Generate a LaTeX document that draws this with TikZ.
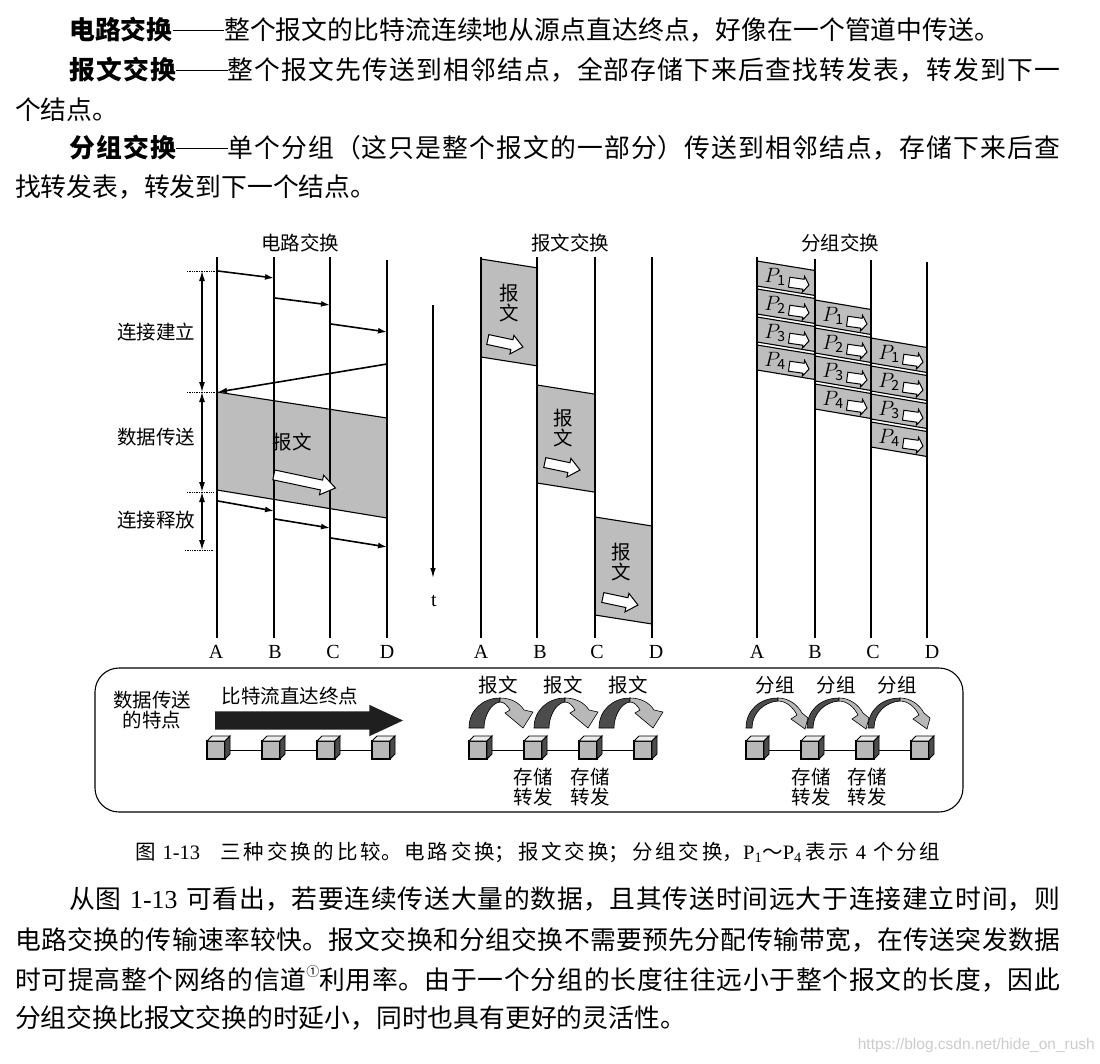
\documentclass[tikz,border=0pt]{standalone}
\usepackage{fontspec}
\setmainfont{Noto Sans CJK SC}
\newfontfamily\lat{Liberation Serif}
\newfontfamily\wmfont{Liberation Sans}
\usepackage{tikz}
\usetikzlibrary{arrows.meta,positioning,calc,shapes.arrows}
\XeTeXlinebreaklocale "zh"
\XeTeXlinebreakskip=0pt plus 3pt
\definecolor{band-gray}{gray}{0.74}
\definecolor{cube-gray}{gray}{0.72}
\definecolor{arc-dark}{gray}{0.3}
\definecolor{arc-light}{gray}{0.72}
\newcommand{\fitl}[1]{\parindent=0pt\parfillskip=0pt\leftskip=0pt\rightskip=0pt\tolerance=10000\hbadness=10000\relax #1\par}
\newcommand{\ldash}{\rule[0.33em]{2em}{0.06em}}
\tikzset{
  body/.style={anchor=west,inner sep=0pt,font=\fontsize{25.8}{30}\selectfont},
  fitline/.style={body,text width=#1},
  lbl/.style={inner sep=0pt,font=\fontsize{19.5}{20}\selectfont,align=center},
  pin/.style={inner sep=0pt,minimum height=28pt,font=\lat\fontsize{20}{20}\selectfont},
  life/.style={line width=1.2pt},
  msgarrow/.style={-{Latex[length=9pt,width=6pt]},line width=1.6pt},
  dimarrow/.style={{Latex[length=10pt,width=6pt]}-{Latex[length=10pt,width=6pt]},line width=1.1pt},
  tickline/.style={densely dotted,line width=0.7pt},
  slab/.style={fill=band-gray,draw=none},
  slabedge/.style={line width=1.1pt},
  hollow/.style={single arrow,draw=black,fill=white,line width=1pt,inner sep=#1,outer sep=0pt,rotate=-12,anchor=tip},
  cubeface/.style={draw=black,fill=cube-gray,line width=1.1pt,inner sep=0pt,minimum size=18pt,outer sep=0pt},
  fatarc/.pic={
    \filldraw[fill=arc-dark,line width=0.6pt] (0,0) .. controls (0,-18) and (14,-30) .. (31,-30) -- (31,-26) .. controls (22,-25) and (15,-12) .. (15,0) -- cycle;
    \filldraw[fill=arc-light,line width=0.6pt] (31,-30) .. controls (41,-30) and (50,-26) .. (55,-18) -- (64,-16) -- (54,0) -- (36,-15) -- (41,-18) .. controls (38,-23) and (35,-26) .. (31,-26) -- cycle;
  },
  thinarc/.pic={
    \filldraw[fill=arc-dark,line width=0.6pt] (0,0) .. controls (0,-18) and (14,-30) .. (32,-30) -- (32,-27) .. controls (18,-26) and (6,-15) .. (6,0) -- cycle;
    \filldraw[fill=arc-light,line width=0.6pt] (32,-30) .. controls (42,-30) and (51,-24) .. (56,-15) -- (62,-10) -- (59,1) -- (45,-9) -- (51,-13) .. controls (47,-21) and (40,-27) .. (32,-27) -- cycle;
  },
}
\newcommand{\cubenode}[3]{
  \node[cubeface,anchor=north west] (#1) at (#2,#3) {};
  \filldraw[fill=gray!15,line width=0.9pt] (#1.north west)--++(5,-5)--++(18,0)--(#1.north east)--cycle;
  \filldraw[fill=black!70,line width=0.9pt] (#1.north east)--++(5,-5)--++(0,18)--(#1.south east)--cycle;
}
\begin{document}
\begin{tikzpicture}[x=1pt,y=-1pt]
  \useasboundingbox (0,0) rectangle (1100,1063);
  \fill[white] (0,0) rectangle (1100,1063);
  \node[fitline=931pt] (p1) at (69,30) {\fitl{\textbf{电路交换}\ldash 整个报文的比特流连续地从源点直达终点，好像在一个管道中传送。}};
  \node[fitline=991pt] (p2) at (69,70) {\fitl{\textbf{报文交换}\ldash 整个报文先传送到相邻结点，全部存储下来后查找转发表，转发到下一}};
  \node[body] (p2b) at (15,110) {个结点。};
  \node[fitline=991pt] (p3) at (69,148) {\fitl{\textbf{分组交换}\ldash 单个分组（这只是整个报文的一部分）传送到相邻结点，存储下来后查}};
  \node[body] (p3b) at (15,187) {找转发表，转发到下一个结点。};

  \node[lbl] (tc) at (300,243) {电路交换};
  \node[lbl] (tm) at (570,243) {报文交换};
  \node[lbl] (tp) at (840,243) {分组交换};

  \fill[slab] (217,392)--(387,418)--(387,518)--(217,490)--cycle;
  \draw[slabedge] (217,392)--(387,418) (217,490)--(387,518);
  \foreach \x/\y in {481/259,537/385,595/517}{
    \fill[slab] (\x,\y)--(\x+57,\y+9)--(\x+57,\y+107)--(\x,\y+98)--cycle;
    \draw[slabedge] (\x,\y)--(\x+57,\y+9) (\x,\y+98)--(\x+57,\y+107);
  }
  \foreach \c/\x/\w/\y in {0/757/58/261,1/815/56/300,2/871/56/338}{
    \foreach \i in {1,...,4}{
      \fill[slab] (\x,{\y+(\i-1)*28})--(\x+\w,{\y+(\i-1)*28+9.5})--(\x+\w,{\y+(\i-1)*28+34.5})--(\x,{\y+(\i-1)*28+25})--cycle;
      \draw[slabedge] (\x,{\y+(\i-1)*28})--(\x+\w,{\y+(\i-1)*28+9.5}) (\x,{\y+(\i-1)*28+25})--(\x+\w,{\y+(\i-1)*28+34.5});
      \node[inner sep=0pt,font=\fontsize{20}{20}\selectfont] (pk\c\i) at (\x+18,{\y+(\i-1)*28+16}) {$P_{\mathit{\i}}$};
      \node[hollow=4.5pt,single arrow head extend=3pt,single arrow tip angle=110,minimum height=20pt,line width=1pt,rotate=4] (pa\c\i) at (\x+52,{\y+(\i-1)*28+24}) {};
    }
  }

  \foreach \g/\n/\x/\t/\lx in {c/A/217/257/216,c/B/274/257/275,c/C/330/257/333,c/D/387/260/387,
                               m/A/481/257/481,m/B/537/257/540,m/C/595/257/597,m/D/652/257/656,
                               p/A/757/257/757,p/B/815/259/815,p/C/871/260/873,p/D/927/262/932}{
    \node[pin] (\g\n) at (\lx,652) {\n};
    \coordinate (\g\n top) at (\x,\t);
    \draw[life] (\g\n top)--(\g\n top |- \g\n.north);
  }

  \foreach \i/\xa/\ya/\xb/\yb in {1/218/271/274/278,2/275/298/330/305,3/331/324/387/332,4/387/364/218/392,
                                  5/218/501/274/511,6/275/519/330/528,7/331/538/387/547}{
    \coordinate (s\i) at (\xa,\ya);
    \coordinate (e\i) at (\xb,\yb);
    \draw[msgarrow] (s\i)--(e\i);
  }
  \foreach \i/\y/\xl/\xr in {1/271/187/217,2/392/187/215,3/492/187/213,4/550/185/213}{
    \coordinate (dm\i) at (202,\y);
    \draw[tickline] (\xl,\y)--(\xr,\y);
  }
  \foreach \i/\j in {1/2,2/3,3/4}{ \draw[dimarrow] (dm\i)--(dm\j); }
  \node[lbl] (ls) at (156,332) {连接建立};
  \node[lbl] (ld) at (156,437) {数据传送};
  \node[lbl] (lr) at (156,520) {连接释放};
  \node[lbl] (bw) at (292,442) {报文};
  \node[hollow=4.5pt,single arrow head extend=5pt,single arrow tip angle=70,minimum height=63pt] (ba) at (335.5,488) {};

  \foreach \i/\x/\y/\ax/\ay in {1/509/303/523/347,2/563/428/580/470,3/621/562/638/605}{
    \node[lbl] (mw\i) at (\x,\y) {报\\文};
    \node[hollow=4.5pt,single arrow head extend=4.5pt,single arrow tip angle=80,minimum height=36pt] (ma\i) at (\ax,\ay) {};
  }

  \coordinate (ttop) at (433,305);
  \node[inner sep=0pt,font=\lat\fontsize{20}{20}\selectfont] (tt) at (434,601) {t};
  \draw[-{Latex[length=10pt,width=5.5pt]},line width=1.3pt] (ttop)--(433,578);

  \node[draw,line width=1.1pt,rounded corners=24pt,inner sep=0pt,minimum width=868pt,minimum height=144pt] (panel) at (529,740) {};
  \node[lbl] (pl) at (152,710) {数据传送\\的特点};
  \node[lbl] (pb) at (290,696) {比特流直达终点};
  \node[single arrow,fill=black!88,inner sep=9pt,outer sep=0pt,single arrow head extend=6.5pt,single arrow tip angle=50,minimum height=188pt,anchor=tip] (fa) at (403,720.5) {};

  \foreach \g/\x in {cu/207,mu/469,pu/746}{
    \cubenode{\g1}{\x}{741}
    \cubenode{\g2}{\x+55}{741}
    \cubenode{\g3}{\x+110}{741}
    \cubenode{\g4}{\x+165}{741}
    \foreach \i/\j in {1/2,2/3,3/4}{
      \draw[line width=0.9pt] ([xshift=5pt]\g\i.east)--(\g\j.west);
    }
  }
  \foreach \i/\x/\lx in {1/469/498,2/534/563,3/599/628}{
    \node[lbl] (mh\i) at (\lx,685) {报文};
    \pic at (\x,728) {fatarc};
  }
  \foreach \i/\x/\lx in {1/746/775,2/807/836,3/868/897}{
    \node[lbl] (ph\i) at (\lx,685) {分组};
    \pic at (\x,728) {thinarc};
  }
  \foreach \i/\x in {1/533,2/590,3/811,4/867}{
    \node[lbl] (sf\i) at (\x,787) {存储\\转发};
  }

  \node[fitline=805pt,font=\fontsize{20.5}{24}\selectfont] (cap) at (135,852) {\fitl{图 {\lat 1-13}\quad 三种交换的比较。电路交换；报文交换；分组交换，{\lat P\textsubscript{1}}～{\lat P\textsubscript{4}}\,表示 {\lat 4} 个分组}};

  \node[fitline=991pt] (q1) at (69,899) {\fitl{从图 {\lat 1-13} 可看出，若要连续传送大量的数据，且其传送时间远大于连接建立时间，则}};
  \node[fitline=1045pt] (q2) at (15,940) {\fitl{电路交换的传输速率较快。报文交换和分组交换不需要预先分配传输带宽，在传送突发数据}};
  \node[fitline=1045pt] (q3) at (15,979) {\fitl{时可提高整个网络的信道\raisebox{0.5em}{\fontsize{13}{13}\selectfont ①}利用率。由于一个分组的长度往往远小于整个报文的长度，因此}};
  \node[body] (q4) at (15,1018) {分组交换比报文交换的时延小，同时也具有更好的灵活性。};
  \node[anchor=east,inner sep=0pt,text=gray!40,font=\wmfont\fontsize{15.5}{16}\selectfont] (wm) at (1095,1045) {https://blog.csdn.net/hide\_on\_rush};
\end{tikzpicture}
\end{document}
